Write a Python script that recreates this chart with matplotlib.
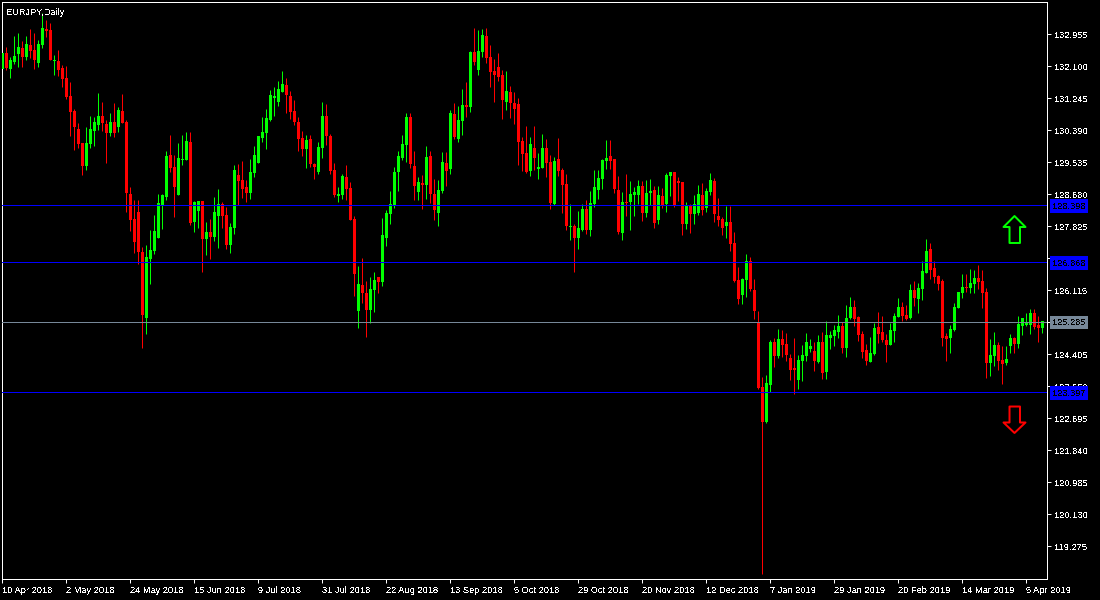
import numpy as np
import matplotlib
matplotlib.use('Agg')
import matplotlib.pyplot as plt
from matplotlib.path import Path
from matplotlib.transforms import ScaledTranslation

# daily EURJPY bars
opens = [
    132.02, 132.45, 132.02, 132.21, 132.42, 132.58, 132.34, 132.66, 132.53, 132.18,
    132.66, 133.09, 133.06, 132.23, 132.23, 132.05, 131.78, 131.30, 130.90, 130.42,
    130.04, 129.43, 130.02, 130.36, 130.52, 130.76, 130.55, 130.31, 130.60, 130.47,
    130.90, 130.60, 128.68, 128.01, 128.20, 127.13, 125.37, 126.94, 127.16, 127.50,
    128.39, 128.60, 129.72, 129.40, 128.65, 129.59, 129.59, 130.07, 127.93, 128.23,
    128.49, 127.48, 127.66, 127.53, 128.09, 128.41, 128.12, 127.32, 127.77, 129.19,
    129.05, 128.87, 128.71, 129.24, 129.51, 130.18, 130.31, 130.66, 131.25, 131.14,
    131.40, 131.59, 131.30, 130.90, 130.60, 130.18, 129.88, 130.15, 129.48, 129.27,
    129.91, 130.76, 130.23, 129.32, 128.63, 128.65, 129.13, 128.84, 128.01, 125.55,
    126.25, 126.03, 125.58, 126.11, 126.46, 126.33, 127.50, 128.15, 128.39, 129.27,
    129.64, 129.99, 130.74, 129.43, 128.73, 128.97, 128.92, 129.69, 128.68, 128.17,
    128.76, 129.51, 129.35, 130.82, 130.15, 130.63, 131.06, 131.00, 132.47, 131.99,
    132.47, 132.90, 132.34, 131.97, 132.07, 131.86, 131.14, 131.40, 131.11, 131.08,
    130.10, 129.77, 129.29, 129.91, 129.35, 129.37, 129.91, 129.53, 128.41, 129.61,
    129.32, 128.95, 127.80, 127.82, 127.50, 127.72, 128.28, 127.72, 128.41, 128.79,
    129.08, 129.56, 129.69, 129.61, 128.79, 127.64, 128.47, 128.47, 128.65, 128.65,
    128.89, 128.17, 128.71, 128.79, 127.98, 128.63, 128.41, 129.16, 129.27, 129.03,
    129.00, 127.88, 128.36, 128.15, 128.17, 128.65, 128.31, 128.73, 129.03, 128.09,
    128.01, 127.82, 127.93, 127.37, 126.38, 125.98, 126.38, 126.89, 126.11, 125.26,
    123.52, 122.59, 123.58, 124.72, 124.35, 124.80, 124.67, 124.30, 124.03, 123.71,
    124.22, 124.35, 124.54, 124.48, 124.19, 124.72, 123.92, 124.83, 124.89, 124.99,
    125.15, 124.56, 125.37, 125.66, 125.39, 124.94, 124.51, 124.19, 124.40, 125.13,
    124.99, 124.78, 124.64, 125.02, 125.39, 125.66, 125.45, 125.37, 126.11, 125.87,
    126.14, 126.57, 127.21, 126.70, 126.49, 126.35, 124.89, 124.83, 125.05, 125.63,
    126.03, 126.19, 126.17, 126.27, 126.43, 126.35, 126.06, 124.16, 124.35, 124.64,
    124.24, 124.16, 124.62, 124.83, 124.67, 125.15, 125.18, 125.18, 125.50, 125.18,
    125.10,
]
highs = [
    132.45, 132.61, 132.34, 132.90, 132.98, 132.77, 132.90, 133.09, 132.98, 132.79,
    133.52, 133.33, 133.25, 132.39, 132.53, 132.13, 132.10, 131.67, 130.95, 130.58,
    130.04, 130.47, 130.76, 130.74, 131.38, 131.14, 130.66, 130.84, 131.11, 131.00,
    131.35, 130.66, 128.87, 128.52, 128.52, 127.26, 127.32, 127.72, 128.12, 128.68,
    128.68, 129.83, 130.26, 129.72, 130.04, 130.26, 130.34, 130.34, 128.49, 128.49,
    128.49, 127.93, 128.01, 128.60, 128.81, 128.47, 128.33, 127.90, 129.45, 129.48,
    129.56, 129.05, 129.61, 129.96, 130.23, 130.74, 130.95, 131.46, 131.54, 131.70,
    131.97, 131.78, 131.43, 131.19, 130.74, 130.36, 130.26, 130.26, 129.51, 130.07,
    131.14, 131.08, 130.28, 129.51, 128.87, 129.21, 129.45, 129.00, 128.09, 126.76,
    126.97, 126.35, 126.46, 126.59, 126.46, 128.04, 128.25, 128.76, 129.40, 129.83,
    130.26, 130.84, 130.84, 129.83, 129.13, 129.19, 129.96, 129.83, 129.08, 129.05,
    129.80, 129.80, 130.92, 131.11, 131.03, 131.49, 131.67, 132.50, 133.11, 133.06,
    133.09, 133.11, 132.66, 132.29, 132.45, 131.99, 131.97, 131.57, 131.40, 131.24,
    130.20, 130.50, 130.20, 130.50, 129.77, 130.28, 130.15, 129.72, 129.67, 130.18,
    129.37, 129.21, 128.41, 127.88, 128.23, 128.41, 128.52, 128.76, 129.32, 129.32,
    129.61, 130.12, 130.12, 129.61, 129.16, 128.73, 129.21, 129.03, 128.87, 129.05,
    129.03, 129.05, 129.08, 128.89, 128.89, 128.84, 129.24, 129.27, 129.27, 129.13,
    129.00, 128.47, 128.41, 128.65, 128.92, 128.97, 128.84, 129.24, 129.11, 128.57,
    128.07, 128.36, 128.36, 127.66, 126.73, 126.43, 127.08, 127.00, 126.41, 125.55,
    123.79, 123.84, 124.78, 124.83, 125.07, 125.05, 124.96, 124.40, 124.83, 124.38,
    124.64, 124.96, 124.80, 124.72, 124.91, 124.99, 125.29, 125.02, 125.18, 125.45,
    125.26, 125.71, 125.93, 125.85, 125.42, 125.02, 124.67, 124.86, 125.23, 125.53,
    125.42, 124.94, 125.23, 125.50, 125.90, 125.79, 125.71, 126.27, 126.35, 126.30,
    126.89, 127.48, 127.37, 126.89, 126.51, 126.41, 124.96, 125.18, 125.77, 126.06,
    126.54, 126.54, 126.67, 126.65, 126.78, 126.65, 126.17, 124.80, 124.99, 124.72,
    124.62, 124.62, 124.94, 124.86, 125.42, 125.37, 125.50, 125.61, 125.61, 125.42,
    125.29,
]
lows = [
    131.49, 131.99, 131.78, 132.15, 132.07, 132.07, 132.26, 132.31, 132.02, 132.07,
    132.58, 132.87, 132.26, 131.86, 131.83, 131.54, 131.22, 130.23, 129.85, 129.91,
    129.19, 129.32, 129.91, 129.96, 130.39, 130.36, 129.51, 130.23, 130.20, 130.34,
    130.58, 128.20, 127.69, 127.10, 126.81, 124.56, 124.94, 126.27, 127.08, 127.50,
    127.74, 128.52, 129.27, 128.07, 128.65, 129.45, 129.59, 127.85, 127.66, 127.77,
    126.59, 127.05, 126.94, 127.42, 127.24, 127.77, 127.21, 127.10, 127.61, 128.39,
    128.57, 128.47, 128.55, 129.13, 129.51, 130.07, 129.88, 130.63, 130.76, 131.03,
    131.40, 130.84, 130.68, 130.52, 129.83, 129.69, 129.37, 129.40, 129.08, 129.21,
    129.64, 129.99, 129.21, 128.60, 128.47, 128.55, 128.52, 127.98, 125.95, 125.10,
    125.77, 124.86, 125.23, 125.53, 126.03, 126.22, 127.29, 127.88, 128.31, 128.76,
    129.59, 129.53, 129.37, 128.52, 128.52, 128.28, 128.55, 128.44, 127.98, 127.82,
    128.71, 128.89, 129.21, 130.15, 130.07, 130.26, 130.74, 130.87, 132.13, 131.86,
    132.34, 132.18, 131.54, 131.14, 131.70, 130.68, 130.92, 130.71, 130.55, 129.45,
    129.29, 129.24, 129.16, 129.32, 129.08, 129.37, 129.13, 128.28, 128.39, 129.16,
    128.17, 127.72, 127.45, 126.59, 127.21, 127.69, 127.61, 127.56, 128.33, 128.55,
    128.81, 129.35, 129.35, 128.71, 127.61, 127.45, 128.09, 127.72, 128.09, 128.41,
    127.96, 128.07, 128.39, 127.77, 127.88, 128.31, 128.20, 128.63, 128.33, 128.49,
    127.58, 127.74, 127.64, 127.88, 128.12, 128.12, 128.20, 128.65, 127.93, 127.82,
    127.58, 127.50, 127.16, 126.33, 125.74, 125.74, 125.93, 126.09, 125.34, 123.47,
    118.53, 122.56, 123.39, 124.06, 124.30, 124.32, 124.22, 123.71, 123.34, 123.47,
    123.68, 124.22, 124.46, 123.95, 124.16, 123.74, 123.74, 124.54, 124.62, 124.83,
    124.43, 124.32, 125.34, 125.15, 124.75, 124.30, 124.11, 124.19, 124.38, 124.70,
    124.72, 124.19, 124.64, 124.72, 125.39, 125.29, 125.31, 125.34, 125.69, 125.50,
    125.85, 126.57, 126.41, 126.30, 126.11, 124.62, 124.22, 124.43, 125.02, 125.63,
    125.90, 126.06, 126.03, 126.03, 126.14, 125.63, 123.76, 123.82, 124.08, 123.98,
    123.60, 124.11, 124.43, 124.43, 124.56, 124.91, 125.15, 124.94, 125.07, 124.72,
    124.97,
]
closes = [
    132.45, 132.05, 132.26, 132.37, 132.61, 132.34, 132.69, 132.50, 132.26, 132.69,
    133.11, 133.03, 132.26, 132.26, 131.99, 131.75, 131.27, 130.87, 130.47, 130.02,
    129.43, 130.04, 130.42, 130.60, 130.76, 130.58, 130.31, 130.60, 130.31, 130.92,
    130.58, 128.71, 127.98, 127.40, 127.13, 125.45, 126.99, 127.18, 127.69, 128.44,
    128.65, 129.69, 129.37, 128.87, 129.64, 129.61, 130.10, 127.90, 128.47, 128.49,
    127.48, 127.66, 127.53, 128.20, 128.41, 128.09, 127.32, 127.80, 129.32, 129.03,
    128.81, 128.71, 129.27, 129.72, 130.23, 130.34, 130.71, 131.33, 131.30, 131.49,
    131.62, 131.33, 130.87, 130.60, 130.15, 129.88, 130.12, 129.48, 129.40, 129.93,
    130.76, 130.23, 129.29, 128.65, 128.68, 129.16, 128.81, 127.98, 126.54, 126.27,
    126.03, 125.58, 126.14, 126.38, 126.33, 127.58, 128.17, 128.41, 129.27, 129.69,
    130.02, 130.74, 129.48, 128.89, 129.00, 128.92, 129.67, 128.68, 128.25, 128.79,
    129.53, 129.29, 130.84, 130.20, 130.66, 131.06, 131.00, 132.47, 132.21, 132.50,
    132.93, 132.31, 131.94, 131.86, 131.81, 131.19, 131.43, 131.11, 130.95, 130.07,
    129.75, 129.27, 130.02, 129.64, 129.40, 129.91, 129.51, 128.44, 129.56, 129.29,
    128.92, 127.82, 127.82, 127.50, 127.77, 128.28, 127.72, 128.44, 128.87, 129.11,
    129.59, 129.64, 129.56, 128.81, 127.66, 128.47, 128.44, 128.68, 128.73, 128.89,
    128.17, 128.71, 128.76, 127.90, 128.65, 128.39, 129.19, 129.27, 128.39, 128.97,
    127.88, 128.36, 128.15, 128.41, 128.68, 128.25, 128.76, 129.05, 128.15, 127.98,
    127.77, 127.93, 127.34, 126.35, 125.87, 126.41, 126.89, 126.14, 125.55, 123.50,
    122.59, 123.63, 124.72, 124.35, 124.80, 124.64, 124.38, 123.98, 123.98, 124.24,
    124.38, 124.72, 124.62, 124.22, 124.72, 123.90, 124.91, 124.91, 125.05, 125.15,
    124.56, 125.37, 125.66, 125.34, 124.91, 124.46, 124.22, 124.43, 125.10, 124.94,
    124.78, 124.64, 125.05, 125.42, 125.66, 125.42, 125.34, 126.11, 125.90, 126.17,
    126.62, 127.16, 126.65, 126.46, 126.27, 124.83, 124.80, 125.07, 125.66, 126.06,
    126.19, 126.17, 126.30, 126.43, 126.33, 126.03, 124.16, 124.38, 124.64, 124.22,
    124.14, 124.27, 124.83, 124.67, 125.21, 125.37, 125.26, 125.50, 125.13, 125.10,
    125.285,
]

price_ticks = [132.955, 132.100, 131.245, 130.390, 129.535, 128.680, 127.825, 126.970,
               126.115, 125.260, 124.405, 123.550, 122.695, 121.840, 120.985, 120.130, 119.275]
date_positions = [0, 16, 32, 48, 64, 80, 96, 112, 128, 144, 160, 176, 192, 208, 224, 240, 256]
date_labels = ['10 Apr 2018', '2 May 2018', '24 May 2018', '15 Jun 2018', '9 Jul 2018',
               '31 Jul 2018', '22 Aug 2018', '13 Sep 2018', '5 Oct 2018', '29 Oct 2018',
               '20 Nov 2018', '12 Dec 2018', '7 Jan 2019', '29 Jan 2019', '20 Feb 2019',
               '14 Mar 2019', '5 Apr 2019']

upper_level = 128.398
range_top = 126.868
range_bottom = 123.397
bid = 125.285
arrow_bar = 253
arrow_up_price = 127.758
arrow_down_price = 122.694

WIDTH, HEIGHT = 1100, 600
UP = '#00ff00'
DOWN = '#ff0000'
BLUE = '#0000ff'
FONT = 'Liberation Sans'
FONT_SIZE = 6.7


def draw_candles(ax):
    # bar values were read from pixel edges, lines sit on pixel centres: lift candles half a pixel
    lifted = ax.transData + ScaledTranslation(0, 0.5 / 100, ax.figure.dpi_scale_trans)
    o = np.array(opens)
    c = np.array(closes)
    for i in range(len(opens)):
        color = UP if c[i] > o[i] else DOWN
        ax.plot([i, i], [lows[i], highs[i]], color=color, linewidth=0.72,
                solid_capstyle='butt', transform=lifted, zorder=2)
        ax.bar(i, abs(c[i] - o[i]), bottom=min(o[i], c[i]), width=0.75, color=color,
               linewidth=0, antialiased=False, transform=lifted, zorder=3)


def price_label(ax, price, color):
    ax.annotate('%.3f' % price, xy=(1, price), xycoords=ax.get_yaxis_transform(),
                xytext=(5, 0), textcoords='offset pixels', ha='left', va='center_baseline',
                color='black', fontsize=FONT_SIZE, family=FONT, zorder=10,
                bbox=dict(boxstyle='square,pad=0.26', fc=color, ec='none'))


def draw_levels(ax):
    for level in [upper_level, range_top, range_bottom]:
        ax.axhline(level, color=BLUE, linewidth=0.72, zorder=4)
        price_label(ax, level, BLUE)
    ax.axhline(bid, color='#778899', linewidth=0.72, zorder=4)
    price_label(ax, bid, '#778899')


def draw_arrows(ax):
    up_shape = Path([(0, 13.5), (11, 2.5), (5.5, 2.5), (5.5, -13.5), (-5, -13.5),
                     (-5, 2.5), (-11, 2.5), (0, 13.5)], closed=True)
    down_shape = Path([(0, -13.5), (11, -3), (5.5, -3), (5.5, 13), (-5, 13),
                       (-5, -3), (-11, -3), (0, -13.5)], closed=True)
    for shape, price, color in [(up_shape, arrow_up_price, UP), (down_shape, arrow_down_price, DOWN)]:
        ax.plot([arrow_bar], [price], marker=shape, markersize=19.4, markerfacecolor='none',
                markeredgecolor=color, markeredgewidth=1.44, linestyle='none',
                antialiased=False, zorder=5)


def main():
    plt.rcParams['text.antialiased'] = False
    fig = plt.figure(figsize=(WIDTH / 100, HEIGHT / 100), dpi=100, facecolor='black')
    ax = fig.add_axes([2.2 / WIDTH, 20.8 / HEIGHT, 1045 / WIDTH, 577 / HEIGHT], facecolor='black')

    draw_candles(ax)
    draw_levels(ax)
    draw_arrows(ax)

    ax.set_xlim(0, 261.25)
    ax.set_ylim(118.401, 133.818)

    ax.yaxis.tick_right()
    ax.set_yticks(price_ticks)
    ax.set_yticklabels(['%.3f' % p for p in price_ticks], family=FONT, fontsize=FONT_SIZE)
    ax.set_xticks(date_positions)
    ax.set_xticklabels(date_labels, family=FONT, fontsize=FONT_SIZE, ha='left')
    ax.tick_params(colors='white', length=2.9, width=0.72)
    ax.tick_params(axis='y', pad=2.2)
    ax.tick_params(axis='x', pad=1.9)
    for spine in ax.spines.values():
        spine.set_color('white')
        spine.set_linewidth(0.72)

    ax.text(1, 133.53, 'EURJPY,Daily', color='white', family=FONT, fontsize=FONT_SIZE,
            ha='left', va='center', zorder=6)

    fig.savefig('out.png', dpi=100, facecolor='black')


if __name__ == "__main__":
    main()
